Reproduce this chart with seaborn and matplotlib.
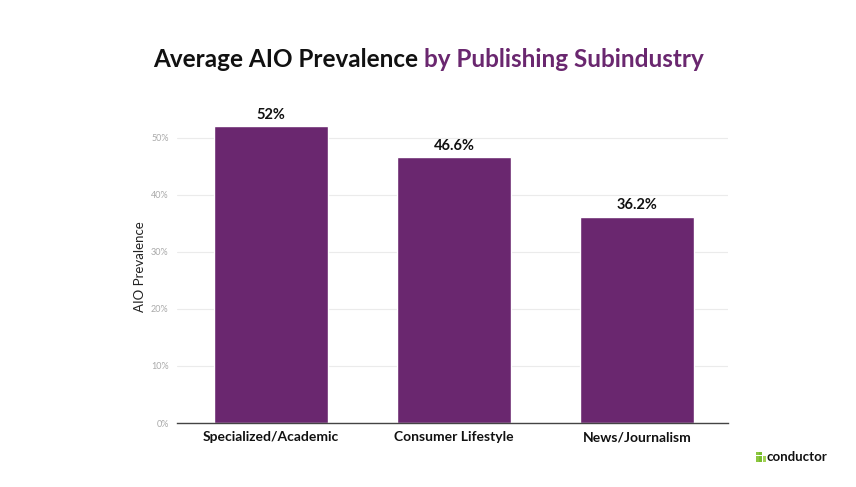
import matplotlib
matplotlib.use("Agg")
import matplotlib.pyplot as plt
import seaborn as sns
import pandas as pd
from matplotlib.patches import Rectangle
from matplotlib.ticker import FuncFormatter

categories = ["Specialized/Academic", "Consumer Lifestyle", "News/Journalism"]
values = [52.0, 46.6, 36.2]
value_labels = ["52%", "46.6%", "36.2%"]
yticks = [0, 10, 20, 30, 40, 50]

PURPLE = "#6a276f"

sns.set_theme(style="white")
plt.rcParams['font.family'] = ['Lato', 'DejaVu Sans']

df = pd.DataFrame({"cat": categories, "val": values})

fig = plt.figure(figsize=(8.56, 4.87), dpi=100)
ax = fig.add_axes([0.2068, 0.1314, 0.6437, 0.644])

sns.barplot(data=df, x="cat", y="val", color=PURPLE, saturation=1, width=0.623, ax=ax)
ax.bar_label(ax.containers[0], labels=value_labels, padding=3, fontsize=10.5,
             fontweight='bold', color="#111111")

ax.set_xlim(-0.513, 2.497)
ax.set_ylim(0, 55)
ax.set_yticks(yticks)
ax.yaxis.set_major_formatter(FuncFormatter(lambda v, p: f"{int(v)}%"))
ax.tick_params(axis='y', labelsize=6.5, labelcolor="#aaaaaa", length=0, pad=6)
ax.tick_params(axis='x', labelsize=10, length=0, pad=6)
for lab in ax.get_xticklabels():
    lab.set_fontweight('bold')
    lab.set_color("#111111")
ax.grid(axis='y', color="#ebebeb", linewidth=0.8)
ax.set_axisbelow(True)
for s in ["top", "right", "left"]:
    ax.spines[s].set_visible(False)
ax.spines["bottom"].set_color("#444444")
ax.spines["bottom"].set_linewidth(1.0)
ax.set_xlabel("")
ax.set_ylabel("AIO Prevalence", fontsize=9.5, color="#222222", labelpad=4)

# Title in two colors
t1 = fig.text(0.5, 0.877, "Average AIO Prevalence ", fontsize=17.5, fontweight='bold',
              color="#111111", ha='right', va='center')
fig.canvas.draw()
r = fig.canvas.get_renderer()
t2 = fig.text(0.5, 0.877, "by Publishing Subindustry", fontsize=17.5, fontweight='bold',
              color=PURPLE, ha='left', va='center')
w1 = t1.get_window_extent(r).width / fig.bbox.width
w2 = t2.get_window_extent(r).width / fig.bbox.width
start = 0.5 - (w1 + w2) / 2
t1.set_ha('left'); t1.set_x(start)
t2.set_x(start + w1)

# Logo
fig.text(0.896, 0.062, "conductor", fontsize=9.5, fontweight='bold', color="#111111",
         ha='left', va='center')
px_w = 1 / 856
px_h = 1 / 487
sx, sy = 756 * px_w, 1 - 462 * px_h
cells = [(0, 0), (1, 0), (2, 0), (0, 1), (1, 1), (2, 1), (0, 2), (1, 2)]
greens = ["#8cc63f", "#79bd2f", "#a3d155"]
for i, (cx, cy) in enumerate(cells):
    fig.add_artist(Rectangle((sx + cx * 3.4 * px_w, sy + cy * 3.4 * px_h), 2.9 * px_w, 2.9 * px_h,
                             transform=fig.transFigure, color=greens[i % 3], lw=0))

fig.savefig("out.png", dpi=100)
